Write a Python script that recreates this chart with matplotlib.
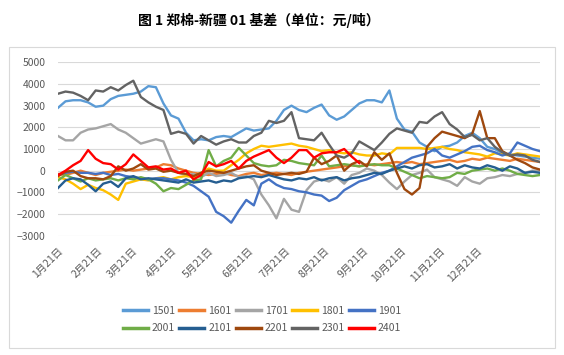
import numpy as np
import pandas as pd
import matplotlib
matplotlib.use("Agg")
import matplotlib.pyplot as plt
import matplotlib.dates as mdates
from matplotlib.patches import Rectangle

plt.rcParams['font.family'] = ['Noto Sans CJK SC', 'DejaVu Sans']

title = "图 1 郑棉-新疆 01 基差（单位：元/吨）"
dates = pd.date_range("2021-01-21", periods=65, freq="6D")
tick_dates = pd.date_range("2021-01-01", periods=12, freq="MS") + pd.Timedelta(days=20)
tick_labels = [f"{m}月21日" for m in range(1, 13)]

names = ["1501", "1601", "1701", "1801", "1901", "2001", "2101", "2201", "2301", "2401"]
colors = ["#5B9BD5", "#ED7D31", "#A5A5A5", "#FFC000", "#4472C4",
          "#70AD47", "#255E91", "#9E480E", "#636363", "#FF0000"]

s1501 = [2900, 3200, 3250, 3250, 3150, 2950, 3000, 3300, 3450, 3500, 3550, 3650, 3900, 3850, 3100, 2550,
         2400, 1750, 1400, 1450, 1400, 1550, 1600, 1550, 1750, 1950, 1850, 1900, 1950, 2300, 2800, 3000,
         2800, 2700, 2900, 3050, 2550, 2350, 2500, 2800, 3100, 3250, 3250, 3150, 3700, 2400, 1900, 1800,
         1300, 1100, 900, 1100, 1150, 1300, 1600, 1750, 1500, 1100, 1000, 800, 750, 700, 650, 600, 550]
s1601 = [-150, -200, -100, 0, -100, -200, -100, -50, 0, 50, 0, 50, 100, 150, 300, 250,
         100, 0, -100, -150, -200, -150, -100, -200, -250, -150, -100, -200, -150, -100, -150, -200,
         -100, -50, 0, 50, 100, 150, 200, 250, 200, 300, 250, 300, 350, 400, 350, 400,
         300, 350, 400, 450, 500, 400, 450, 550, 500, 600, 550, 500, 450, 550, 500, 450, 400]
s1701 = [1600, 1400, 1400, 1750, 1900, 1950, 2050, 2150, 1900, 1750, 1500, 1250, 1350, 1450, 1350, 500,
         -100, -200, -150, -300, -100, -250, -200, -100, -300, -250, -400, -1100, -1600, -2200, -1300, -1800,
         -1900, -900, -500, -400, -500, -300, -600, -200, -100, 100, 0, -200, -550, -850, -500, -200,
         -100, 50, -300, -400, -500, -700, -300, -500, -600, -350, -300, -200, -250, -150, -100, 0, 0]
s1801 = [-300, -400, -600, -850, -650, -800, -900, -1100, -1350, -600, -500, -400, -450, -350, -300, -400,
         -300, -250, -300, -100, 100, 0, 0, 250, 500, 800, 1000, 1150, 1100, 1150, 1200, 1250,
         1150, 1100, 1000, 900, 950, 850, 800, 850, 750, 700, 700, 800, 750, 1050, 1050, 1050,
         1050, 1000, 1050, 1100, 1000, 950, 850, 800, 750, 650, 800, 750, 700, 800, 750, 700, 650]
s1901 = [-200, -100, -50, -100, -100, -150, -100, -200, -150, -250, -300, -350, -400, -350, -350, -400,
         -450, -550, -700, -950, -1200, -1900, -2100, -2400, -1850, -1350, -1600, -600, -400, -650, -800, -850,
         -950, -1000, -1100, -1150, -1400, -1250, -900, -700, -500, -400, -250, -100, 0, 200, 400, 600,
         700, 800, 1000, 700, 600, 750, 900, 1100, 1150, 950, 850, 700, 800, 1300, 1150, 1000, 900]
s2001 = [-450, -200, -350, -500, -350, -450, -400, -350, -450, -350, -400, -300, -400, -600, -950, -800,
         -850, -650, -450, -400, 950, 200, 450, 600, 1050, 700, 350, 250, 200, 250, 500, 450,
         350, 300, 250, 700, 200, 250, 300, 250, 200, 250, 300, 250, 250, 100, -50, -200,
         -350, -250, -300, -350, -300, -100, -150, 0, 50, 100, 0, 100, 0, -150, -200, -250, -200]
s2101 = [-800, -450, -350, -400, -650, -950, -600, -500, -750, -350, -250, -400, -350, -400, -450, -500,
         -550, -400, -550, -500, -450, -550, -450, -500, -350, -300, -250, -300, -200, -300, -400, -450,
         -350, -400, -300, -450, -350, -300, -450, -350, -300, -200, -100, -150, 0, 100, 200, 100,
         250, 300, 150, 200, 300, 100, 250, 150, 100, 250, 150, 0, 200, 100, -100, -50, -100]
s2201 = [-250, -50, 0, -250, -350, -350, -400, -250, 200, 0, 100, 300, 50, 100, -50, 0,
         -100, -150, -250, -100, 0, -50, -100, 0, 100, 200, 250, 0, -100, -200, -150, -100,
         -150, -50, 600, 300, 450, 700, 0, 300, 450, 200, 850, 500, 800, -100, -850, -1100,
         -800, 1100, 1500, 1800, 1700, 1600, 1500, 1700, 2750, 1500, 1500, 900, 700, 500, 350, 150, 50]
s2301 = [3550, 3650, 3600, 3450, 3250, 3700, 3650, 3850, 3700, 3950, 4150, 3400, 3150, 2950, 2800, 1700,
         1800, 1700, 1250, 1600, 1400, 1200, 1350, 1450, 1300, 1300, 1600, 1750, 2300, 2200, 2300, 2700,
         1500, 1450, 1400, 1750, 1200, 700, 600, 800, 1350, 1150, 950, 1300, 1700, 1950, 1850, 1750,
         2250, 2200, 2500, 2700, 2150, 1900, 1550, 1650, 1400, 1500, 1100, 850, 700, 750, 700, 500, 400]
s2401 = [-200, 0, 250, 450, 950, 550, 350, 300, 50, 300, 750, 450, 150, 200, 50, 100,
         -100, 0, -400, -200, 400, 200, 300, 450, 100, 450, 650, 800, 950, 600, 350, 600,
         950, 950, 600, 800, 850, 850, 1000, 650, 350] + [np.nan] * 24

series = [s1501, s1601, s1701, s1801, s1901, s2001, s2101, s2201, s2301, s2401]

W, H = 564, 355
fig = plt.figure(figsize=(W / 100, H / 100), dpi=100)
fig.add_artist(Rectangle((9 / W, 1 - 348 / H), (555 - 9) / W, (348 - 47) / H,
                         transform=fig.transFigure, fill=False, edgecolor="#D9D9D9", linewidth=0.8))
fig.text(259 / W, 1 - 20 / H, title, ha="center", va="center", fontsize=10, fontweight="bold", color="#000000")

ax = fig.add_axes([58 / W, 1 - 235.7 / H, (540 - 58) / W, (235.7 - 62.3) / H])
handles = []
for name, col, vals in zip(names, colors, series):
    ln, = ax.plot(dates, vals, color=col, linewidth=1.7, label=name, solid_joinstyle="round")
    handles.append(ln)

ax.set_ylim(-3000, 5000)
ax.set_yticks(range(-3000, 5001, 1000))
ax.set_xlim(dates[0], dates[-1])
ax.set_xticks(tick_dates)
ax.set_xticklabels(tick_labels, rotation=45, ha="right", va="top", rotation_mode="anchor")
ax.grid(axis="y", color="#D9D9D9", linewidth=0.8)
ax.set_axisbelow(True)
for sp in ax.spines.values():
    sp.set_visible(False)
ax.tick_params(axis="both", length=0, labelsize=7.5, colors="#595959")
ax.tick_params(axis="y", pad=9)
ax.tick_params(axis="x", pad=7)

order = [0, 5, 1, 6, 2, 7, 3, 8, 4, 9]
leg = fig.legend([handles[i] for i in order], [names[i] for i in order],
                 loc="center", bbox_to_anchor=(262 / W, 1 - 319.5 / H), ncol=5, frameon=False,
                 fontsize=7.5, handlelength=2.4, handletextpad=0.4, columnspacing=0.4,
                 labelspacing=0.75, borderaxespad=0)
for t in leg.get_texts():
    t.set_color("#595959")
for l in leg.get_lines():
    l.set_linewidth(2.5)

fig.savefig("out.png", dpi=100)
